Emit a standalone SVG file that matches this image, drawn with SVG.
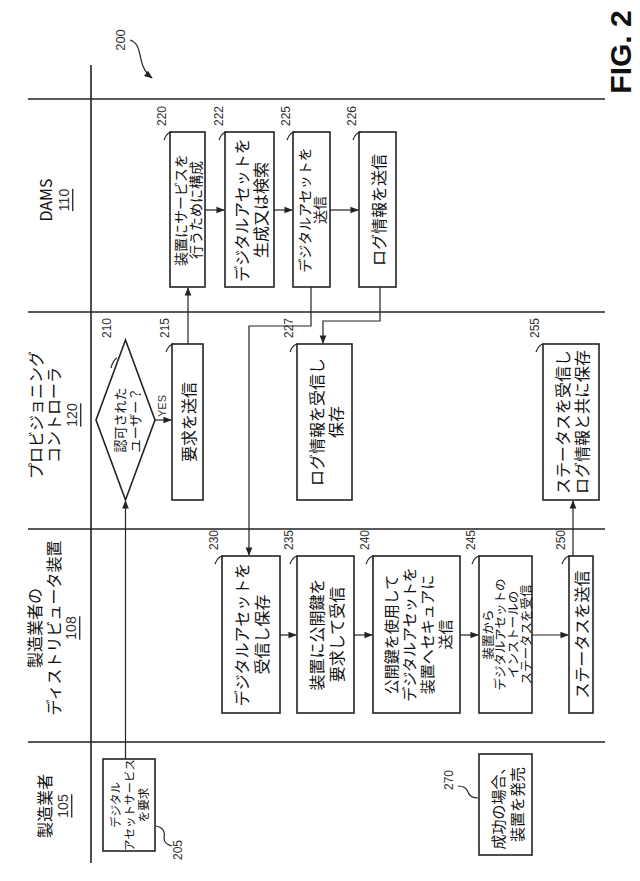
<svg xmlns="http://www.w3.org/2000/svg" width="640" height="881" viewBox="0 0 640 881">
<defs>
<style>
.ln{stroke:#222;stroke-width:1.6;fill:none}
.c{stroke:#222;stroke-width:1.2;fill:none}
.bx{stroke:#222;stroke-width:1.6;fill:#fff}
.t{font-family:"Noto Sans CJK JP","Liberation Sans",sans-serif;font-size:16px;fill:#111;text-anchor:middle;dominant-baseline:central}
.n{font-family:"Liberation Sans",sans-serif;font-size:12px;fill:#333;text-anchor:middle;dominant-baseline:central}
.lt{font-family:"Noto Sans CJK JP","Liberation Sans",sans-serif;font-size:16px;fill:#111;text-anchor:middle;dominant-baseline:central}
</style>
<marker id="a" viewBox="0 0 10 10" refX="9" refY="5" markerWidth="7" markerHeight="7" orient="auto"><path d="M0,1 L10,5 L0,9 Z" fill="#222"/></marker>
</defs>
<rect width="640" height="881" fill="#fff"/>
<g id="lanes">
<line class="ln" x1="91" y1="65" x2="91" y2="863"/>
<line class="ln" x1="28" y1="99" x2="605" y2="99"/>
<line class="ln" x1="28" y1="312" x2="605" y2="312"/>
<line class="ln" x1="28" y1="529" x2="605" y2="529"/>
<line class="ln" x1="28" y1="742" x2="605" y2="742"/>
</g>
<g id="lane-labels">
<text class="lt" transform="translate(45 200) rotate(-90)">DAMS</text>
<text class="n" transform="translate(64 200) rotate(-90)" text-decoration="underline" style="font-size:14px">110</text>
<text class="lt" transform="translate(35 415) rotate(-90)">プロビジョニング</text>
<text class="lt" transform="translate(53 415) rotate(-90)">コントローラ</text>
<text class="n" transform="translate(72 415) rotate(-90)" text-decoration="underline" style="font-size:14px">120</text>
<text class="lt" transform="translate(34 628) rotate(-90)">製造業者の</text>
<text class="lt" transform="translate(53 628) rotate(-90)">ディストリビュータ装置</text>
<text class="n" transform="translate(71 628) rotate(-90)" text-decoration="underline" style="font-size:14px">108</text>
<text class="lt" transform="translate(44 806) rotate(-90)">製造業者</text>
<text class="n" transform="translate(63 806) rotate(-90)" text-decoration="underline" style="font-size:14px">105</text>
<text transform="translate(620 52) rotate(-90)" style="font-family:'Liberation Sans',sans-serif;font-size:30px;font-weight:bold;fill:#111;text-anchor:middle;dominant-baseline:central">FIG. 2</text>
<text class="n" transform="translate(120 40) rotate(-90)" style="font-size:13px">200</text>
<path class="c" d="M130,40 C145,45 135,65 152,78" marker-end="url(#a)"/>
</g>
<g id="n220"><rect class="bx" x="170" y="132" width="35" height="155"/><text class="t" style="font-size:14px" transform="translate(187.5 210) rotate(-90)"><tspan x="0" y="-7.5">装置にサービスを</tspan><tspan x="0" y="7.5">行うために構成</tspan></text><text class="n" transform="translate(162 128) rotate(-90)" x="12" y="0">220</text><path class="c" d="M164,140 q3,-8 8,-8"/></g>
<g id="n222"><rect class="bx" x="225" y="132" width="49" height="155"/><text class="t" transform="translate(249.5 210) rotate(-90)"><tspan x="0" y="-9">デジタルアセットを</tspan><tspan x="0" y="10">生成又は検索</tspan></text><text class="n" transform="translate(219 128) rotate(-90)" x="12" y="0">222</text><path class="c" d="M219,140 q3,-8 8,-8"/></g>
<g id="n225"><rect class="bx" x="293" y="132" width="37" height="155"/><text class="t" style="font-size:14px" transform="translate(311.5 210) rotate(-90)"><tspan x="0" y="-7.5">デジタルアセットを</tspan><tspan x="0" y="7.5">送信</tspan></text><text class="n" transform="translate(286 128) rotate(-90)" x="12" y="0">225</text><path class="c" d="M287,140 q3,-8 8,-8"/></g>
<g id="n226"><rect class="bx" x="359" y="132" width="37" height="155"/><text class="t" transform="translate(377.5 210) rotate(-90)">ログ情報を送信</text><text class="n" transform="translate(352 128) rotate(-90)" x="12" y="0">226</text><path class="c" d="M353,140 q3,-8 8,-8"/></g>
<g id="n210"><path class="bx" d="M125.5,340 L155,420 L125.5,500 L96,420 Z"/><text class="t" style="font-size:13px" transform="translate(125.5 420) rotate(-90)"><tspan x="0" y="-7">認可された</tspan><tspan x="0" y="8">ユーザー？</tspan></text><text class="n" transform="translate(107 340) rotate(-90)" x="12" y="0">210</text><path class="c" d="M111,368 q2,-8 6,-10"/></g>
<g id="n215"><rect class="bx" x="172" y="344" width="31" height="156"/><text class="t" transform="translate(187.5 422) rotate(-90)">要求を送信</text><text class="n" transform="translate(165 340) rotate(-90)" x="12" y="0">215</text><path class="c" d="M166,352 q3,-8 8,-8"/></g>
<g id="n227"><rect class="bx" x="297" y="344" width="55" height="156"/><text class="t" transform="translate(324.5 422) rotate(-90)"><tspan x="0" y="-9">ログ情報を受信し</tspan><tspan x="0" y="10">保存</tspan></text><text class="n" transform="translate(289 340) rotate(-90)" x="12" y="0">227</text><path class="c" d="M290,352 q3,-8 8,-8"/></g>
<g id="n255"><rect class="bx" x="543" y="344" width="56" height="156"/><text class="t" transform="translate(571 422) rotate(-90)"><tspan x="0" y="-9">ステータスを受信し</tspan><tspan x="0" y="10">ログ情報と共に保存</tspan></text><text class="n" transform="translate(535 340) rotate(-90)" x="12" y="0">255</text><path class="c" d="M536,352 q3,-8 8,-8"/></g>
<g id="n230"><rect class="bx" x="222" y="556" width="58" height="157"/><text class="t" transform="translate(251 634.5) rotate(-90)"><tspan x="0" y="-10">デジタルアセットを</tspan><tspan x="0" y="10">受信し保存</tspan></text><text class="n" transform="translate(214 552) rotate(-90)" x="12" y="0">230</text><path class="c" d="M215,564 q3,-8 8,-8"/></g>
<g id="n235"><rect class="bx" x="297" y="556" width="57" height="157"/><text class="t" transform="translate(325.5 634.5) rotate(-90)"><tspan x="0" y="-10">装置に公開鍵を</tspan><tspan x="0" y="10">要求して受信</tspan></text><text class="n" transform="translate(289 552) rotate(-90)" x="12" y="0">235</text><path class="c" d="M290,564 q3,-8 8,-8"/></g>
<g id="n240"><rect class="bx" x="373" y="556" width="87" height="157"/><text class="t" style="font-size:15px" transform="translate(416.5 634.5) rotate(-90)"><tspan x="0" y="-27">公開鍵を使用して</tspan><tspan x="0" y="-9">デジタルアセットを</tspan><tspan x="0" y="9">装置へセキュアに</tspan><tspan x="0" y="27">送信</tspan></text><text class="n" transform="translate(365 552) rotate(-90)" x="12" y="0">240</text><path class="c" d="M366,564 q3,-8 8,-8"/></g>
<g id="n245"><rect class="bx" x="479" y="556" width="53" height="157"/><text class="t" style="font-size:12.5px" transform="translate(505.5 634.5) rotate(-90)"><tspan x="0" y="-19">装置から</tspan><tspan x="0" y="-6.5">デジタルアセットの</tspan><tspan x="0" y="6.5">インストールの</tspan><tspan x="0" y="19">ステータスを受信</tspan></text><text class="n" transform="translate(471 552) rotate(-90)" x="12" y="0">245</text><path class="c" d="M472,564 q3,-8 8,-8"/></g>
<g id="n250"><rect class="bx" x="569" y="556" width="24" height="157"/><text class="t" transform="translate(581 634.5) rotate(-90)">ステータスを送信</text><text class="n" transform="translate(561 552) rotate(-90)" x="12" y="0">250</text><path class="c" d="M562,564 q3,-8 8,-8"/></g>
<g id="n205"><rect class="bx" x="103" y="759" width="52" height="92"/><text class="t" style="font-size:11.5px" transform="translate(129 805) rotate(-90)"><tspan x="0" y="-14">デジタル</tspan><tspan x="0" y="0">アセットサービス</tspan><tspan x="0" y="14">を要求</tspan></text><text class="n" transform="translate(178 850) rotate(-90)">205</text><path class="c" d="M156,826 q10,2 8,12 q0,6 8,8"/></g>
<g id="n270"><rect class="bx" x="479" y="754" width="53" height="101"/><text class="t" style="font-size:15px" transform="translate(505.5 804.5) rotate(-90)"><tspan x="0" y="-9">成功の場合、</tspan><tspan x="0" y="10">装置を発売</tspan></text><text class="n" transform="translate(449 780) rotate(-90)">270</text><path class="c" d="M458,786 q8,0 10,6 q2,6 10,6"/></g>
<g id="connectors">
<line class="c" x1="125.5" y1="759" x2="125.5" y2="501" marker-end="url(#a)"/>
<line class="c" x1="155" y1="420" x2="171" y2="420" marker-end="url(#a)"/>
<text class="n" style="font-size:11px" transform="translate(162 406) rotate(-90)">YES</text>
<line class="c" x1="188" y1="344" x2="188" y2="288" marker-end="url(#a)"/>
<line class="c" x1="205" y1="210" x2="224" y2="210" marker-end="url(#a)"/>
<line class="c" x1="274" y1="210" x2="292" y2="210" marker-end="url(#a)"/>
<line class="c" x1="330" y1="210" x2="358" y2="210" marker-end="url(#a)"/>
<path class="c" d="M311,287 V326 H249 V555" marker-end="url(#a)"/>
<path class="c" d="M380,287 V321 H323 V343" marker-end="url(#a)"/>
<line class="c" x1="280" y1="635" x2="296" y2="635" marker-end="url(#a)"/>
<line class="c" x1="354" y1="635" x2="372" y2="635" marker-end="url(#a)"/>
<line class="c" x1="460" y1="635" x2="478" y2="635" marker-end="url(#a)"/>
<line class="c" x1="532" y1="635" x2="568" y2="635" marker-end="url(#a)"/>
<line class="c" x1="573" y1="556" x2="573" y2="501" marker-end="url(#a)"/>
</g>
</svg>
